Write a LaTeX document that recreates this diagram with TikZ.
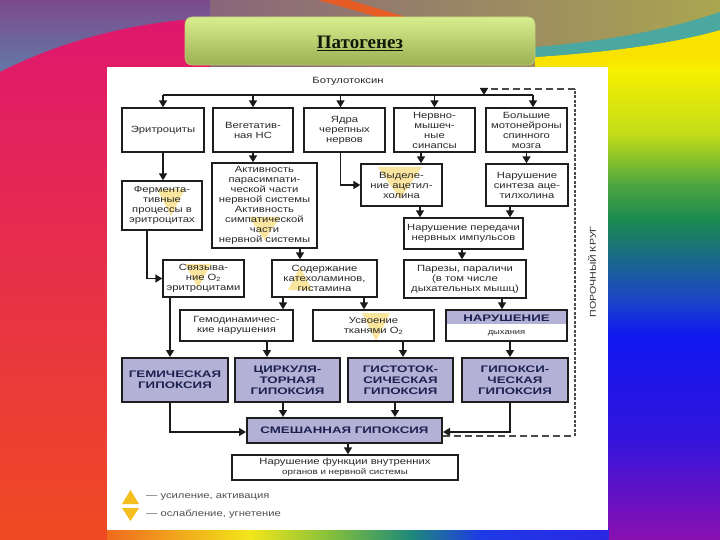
\documentclass[tikz,border=0pt]{standalone}
\usepackage{fontspec}
\setmainfont{Liberation Sans}[FakeStretch=1.25]
\newfontfamily\hypfont{Liberation Sans}[FakeStretch=1.4]
\newfontfamily\titlefont{Liberation Serif}
\usetikzlibrary{arrows.meta}
\definecolor{boxline}{HTML}{1E1E1E}
\definecolor{boxtext}{HTML}{2A2A2A}
\definecolor{hypfill}{HTML}{B4B1D7}
\definecolor{hyptext}{HTML}{1C2150}
\definecolor{lineclr}{HTML}{1A1A1A}
\definecolor{dashclr}{HTML}{4A4A4A}
\definecolor{hlyellow}{HTML}{F7D55E}
\definecolor{legyellow}{HTML}{F4BE1E}
\definecolor{legtext}{HTML}{505050}
\definecolor{titletop}{HTML}{D8EE8E}
\definecolor{titlebot}{HTML}{9CB054}
\definecolor{topL}{HTML}{7B4B8C}
\definecolor{topM}{HTML}{8C6468}
\definecolor{topR}{HTML}{AAA650}
\definecolor{bluegrey}{HTML}{6478A8}
\definecolor{redtop}{HTML}{DF176E}
\definecolor{redbot}{HTML}{EF4A22}
\definecolor{stripe}{HTML}{F05A1E}
\definecolor{tealband}{HTML}{4AA8A0}
\definecolor{yel}{HTML}{F8E200}
\begin{document}
\begin{tikzpicture}[x=1pt,y=-1pt,
  box/.style={draw=boxline, line width=1.4pt, align=center, inner sep=1pt, text=boxtext, font=\fontsize{9}{10}\selectfont},
  hyp/.style={draw=boxline, fill=hypfill, line width=2pt, align=center, inner sep=1pt, text=hyptext, font=\hypfont\bfseries\fontsize{9.5}{11}\selectfont},
  arr/.style={draw=lineclr, line width=1.6pt, -{Triangle[length=7pt,width=8pt]}},
  vline/.style={draw=lineclr, line width=1.6pt},
  vicious/.style={draw=dashclr, line width=2pt, dash pattern=on 7pt off 4pt},
  viciousv/.style={draw=dashclr, line width=2pt, dash pattern=on 3pt off 1.5pt},
  hl/.style={fill=hlyellow, fill opacity=0.6},
  legtri/.style={fill=legyellow},
  legtxt/.style={anchor=west, text=legtext, font=\fontsize{9}{10}\selectfont, inner sep=0pt}
]
\useasboundingbox (0,0) rectangle (720,540);
% ---------- background ----------
\shade[left color=topL, middle color=topM, right color=topR] (0,0) rectangle (720,80);
\shade[top color=topL, bottom color=bluegrey] (0,0) -- (210,0) -- (210,18) .. controls (130,22) and (60,42) .. (0,72) -- cycle;
\shade[top color=redtop, bottom color=redbot] (0,72) .. controls (60,42) and (130,22) .. (210,18) -- (210,67) -- (107,67) -- (107,540) -- (0,540) -- cycle;
\fill[stripe, opacity=0.9] (318,0) -- (349,0) -- (406,17) -- (378,17) -- cycle;
\fill[yel] (535,57) .. controls (610,52) and (670,44) .. (720,30) -- (720,80) -- (535,80) -- cycle;
\fill[tealband] (535,47) .. controls (610,41) and (670,29) .. (720,12) -- (720,30) .. controls (670,44) and (610,52) .. (535,57) -- cycle;
\shade[top color=yel, bottom color={rgb,255:red,248;green,240;blue,0}] (608,55) rectangle (720,70.5);
\shade[top color={rgb,255:red,248;green,240;blue,0}, bottom color={rgb,255:red,192;green,220;blue,24}] (608,70) rectangle (720,135.5);
\shade[top color={rgb,255:red,192;green,220;blue,24}, bottom color={rgb,255:red,76;green,164;blue,64}] (608,135) rectangle (720,185.5);
\shade[top color={rgb,255:red,76;green,164;blue,64}, bottom color={rgb,255:red,26;green,138;blue,80}] (608,185) rectangle (720,220.5);
\shade[top color={rgb,255:red,26;green,138;blue,80}, bottom color={rgb,255:red,26;green,68;blue,200}] (608,220) rectangle (720,300.5);
\shade[top color={rgb,255:red,26;green,68;blue,200}, bottom color={rgb,255:red,16;green,24;blue,240}] (608,300) rectangle (720,335.5);
\shade[top color={rgb,255:red,16;green,24;blue,240}, bottom color={rgb,255:red,52;green,20;blue,220}] (608,335) rectangle (720,440.5);
\shade[top color={rgb,255:red,52;green,20;blue,220}, bottom color={rgb,255:red,138;green,16;blue,176}] (608,440) rectangle (720,540);
% bottom strip
\shade[left color={rgb,255:red,240;green,106;blue,30}, right color={rgb,255:red,242;green,230;blue,26}] (107,528) rectangle (250.5,540);
\shade[left color={rgb,255:red,242;green,230;blue,26}, right color={rgb,255:red,132;green,192;blue,60}] (250,528) rectangle (330.5,540);
\shade[left color={rgb,255:red,132;green,192;blue,60}, right color={rgb,255:red,30;green,138;blue,120}] (330,528) rectangle (410.5,540);
\shade[left color={rgb,255:red,30;green,138;blue,120}, right color={rgb,255:red,30;green,58;blue,230}] (410,528) rectangle (480.5,540);
\shade[left color={rgb,255:red,30;green,58;blue,230}, right color={rgb,255:red,42;green,40;blue,228}] (480,528) rectangle (608.5,540);
% white panel
\fill[white] (107,67) rectangle (608,530);
% title bar
\shade[top color=titletop, bottom color=titlebot, rounded corners=7pt, draw={rgb,255:red,190;green,206;blue,120}, line width=0.6pt] (185,17) rectangle (535,65);
\node[font=\titlefont\bfseries\fontsize{19}{22}\selectfont, text={rgb,255:red,16;green,24;blue,8}] (title) at (360,43) {\underline{Патогенез}};
% ---------- highlight triangles ----------
\fill[hl] (157,189) -- (185,189) -- (171,216) -- cycle;
\fill[hl] (249,217) -- (280,217) -- (264.5,240) -- cycle;
\fill[hl] (378,167) -- (422,167) -- (400,199) -- cycle;
\fill[hl] (185,264) -- (211,264) -- (198,288) -- cycle;
\fill[hl] (288,290) -- (312,290) -- (300,267) -- cycle;
\fill[hl] (362,313) -- (390,313) -- (376,341) -- cycle;
% ---------- nodes ----------
\node[text=boxtext, font=\fontsize{9}{10}\selectfont] (bot) at (348,81) {Ботулотоксин};
\node[box, minimum width=82pt, minimum height=44pt] (ery) at (163,130) {Эритроциты};
\node[box, minimum width=80pt, minimum height=44pt] (veg) at (253,130) {Вегетатив-\\ная НС};
\node[box, minimum width=81pt, minimum height=44pt] (yad) at (344.5,130) {Ядра\\черепных\\нервов};
\node[box, minimum width=81pt, minimum height=44pt] (nms) at (434.5,130) {Нервно-\\мышеч-\\ные\\синапсы};
\node[box, minimum width=81pt, minimum height=44pt] (big) at (526.5,130) {Большие\\мотонейроны\\спинного\\мозга};
\node[box, minimum width=80pt, minimum height=49pt] (fer) at (162,205.5) {Фермента-\\тивные\\процессы в\\эритроцитах};
\node[box, minimum width=105pt, minimum height=85pt] (act) at (264.5,205.5) {Активность\\парасимпати-\\ческой части\\нервной системы\\Активность\\симпатической\\части\\нервной системы};
\node[box, minimum width=81pt, minimum height=42pt] (vyd) at (401.5,185) {Выделе-\\ние ацетил-\\холина};
\node[box, minimum width=82pt, minimum height=42pt] (syn) at (527,185) {Нарушение\\синтеза аце-\\тилхолина};
\node[box, minimum width=119pt, minimum height=31pt] (per) at (463.5,233.5) {Нарушение передачи\\нервных импульсов};
\node[box, minimum width=81pt, minimum height=37pt] (svy) at (203.5,278.5) {Связыва-\\ние O\textsubscript{2}\\эритроцитами};
\node[box, minimum width=105pt, minimum height=37pt] (sod) at (324.5,278.5) {Содержание\\катехоламинов,\\гистамина};
\node[box, minimum width=122pt, minimum height=38pt] (par) at (465,279) {Парезы, параличи\\(в том числе\\дыхательных мышц)};
\node[box, minimum width=113pt, minimum height=31pt] (gem) at (236.5,325.5) {Гемодинамичес-\\кие нарушения};
\node[box, minimum width=121pt, minimum height=31pt] (usv) at (373.5,325.5) {Усвоение\\тканями O\textsubscript{2}};
\fill[hypfill] (446,310) rectangle (567,324);
\node[box, minimum width=121pt, minimum height=31pt] (nar) at (506.5,325.5) {};
\node[text=hyptext, font=\hypfont\bfseries\fontsize{9.5}{11}\selectfont, inner sep=0pt] (nartop) at (506.5,318) {НАРУШЕНИЕ};
\node[text=boxtext, font=\fontsize{7.5}{9}\selectfont, inner sep=0pt] (narbot) at (506.5,333) {дыхания};
\node[hyp, minimum width=106pt, minimum height=44pt] (h1) at (175,380) {ГЕМИЧЕСКАЯ\\ГИПОКСИЯ};
\node[hyp, minimum width=105pt, minimum height=44pt] (h2) at (287.5,380) {ЦИРКУЛЯ-\\ТОРНАЯ\\ГИПОКСИЯ};
\node[hyp, minimum width=105pt, minimum height=44pt] (h3) at (400.5,380) {ГИСТОТОК-\\СИЧЕСКАЯ\\ГИПОКСИЯ};
\node[hyp, minimum width=106pt, minimum height=44pt] (h4) at (515,380) {ГИПОКСИ-\\ЧЕСКАЯ\\ГИПОКСИЯ};
\node[hyp, minimum width=195pt, minimum height=25pt] (mix) at (344.5,430.5) {СМЕШАННАЯ ГИПОКСИЯ};
\node[box, minimum width=226pt, minimum height=25pt] (fun) at (345,467.5) {Нарушение функции внутренних\\{\fontsize{7.8}{9}\selectfont органов и нервной системы}};
\node[rotate=90, text=boxtext, font=\fontsize{8.5}{10}\selectfont] (krug) at (592,272) {ПОРОЧНЫЙ КРУГ};
% legend
\fill[legtri] (122,504) -- (139,504) -- (130.5,490) -- cycle;
\fill[legtri] (122,508) -- (139,508) -- (130.5,521) -- cycle;
\node[legtxt] (leg1) at (146,497) {— усиление, активация};
\node[legtxt] (leg2) at (146,514) {— ослабление, угнетение};
% ---------- connectors ----------
\coordinate (busL) at (163,95);
\coordinate (busR) at (533,95);
\draw[vline] (busL) -- (busR);
\draw[arr] (ery.north |- busL) -- (ery.north);
\draw[arr] (veg.north |- busL) -- (veg.north);
\draw[arr] ([xshift=-4pt]yad.north |- busL) -- ([xshift=-4pt]yad.north);
\draw[arr] (nms.north |- busL) -- (nms.north);
\draw[arr] ([xshift=6.5pt]big.north |- busL) -- ([xshift=6.5pt]big.north);
\draw[arr] (ery.south) -- (ery.south |- fer.north);
\draw[arr] (veg.south) -- (veg.south |- act.north);
\draw[arr] ([xshift=-4pt]yad.south) |- (vyd.west);
\draw[arr] ([xshift=-13.5pt]nms.south) -- ([xshift=-13.5pt]nms.south |- vyd.north);
\draw[arr] (big.south) -- (big.south |- syn.north);
\draw[arr] ([xshift=18.5pt]vyd.south) -- ([xshift=18.5pt]vyd.south |- per.north);
\draw[arr] ([xshift=-17pt]syn.south) -- ([xshift=-17pt]syn.south |- per.north);
\draw[arr] ([xshift=-1.5pt]per.south) -- ([xshift=-1.5pt]per.south |- par.north);
\draw[arr] ([xshift=-15pt]fer.south) |- (svy.west);
\draw[arr] ([xshift=35.5pt]act.south) -- ([xshift=35.5pt]act.south |- sod.north);
\draw[arr] ([xshift=-41.5pt]sod.south) -- ([xshift=-41.5pt]sod.south |- gem.north);
\draw[arr] ([xshift=39.5pt]sod.south) -- ([xshift=39.5pt]sod.south |- usv.north);
\draw[arr] ([xshift=37pt]par.south) -- ([xshift=37pt]par.south |- nar.north);
\draw[arr] ([xshift=-33.5pt]svy.south) -- ([xshift=-33.5pt]svy.south |- h1.north);
\draw[arr] ([xshift=30.5pt]gem.south) -- ([xshift=30.5pt]gem.south |- h2.north);
\draw[arr] ([xshift=29.5pt]usv.south) -- ([xshift=29.5pt]usv.south |- h3.north);
\draw[arr] ([xshift=3.5pt]nar.south) -- ([xshift=3.5pt]nar.south |- h4.north);
\draw[arr] ([xshift=-5pt]h1.south) |- ([yshift=-1.5pt]mix.west);
\draw[arr] ([xshift=-4.5pt]h2.south) -- ([xshift=-4.5pt]h2.south |- mix.north);
\draw[arr] ([xshift=-5.5pt]h3.south) -- ([xshift=-5.5pt]h3.south |- mix.north);
\draw[arr] ([xshift=-5pt]h4.south) |- ([yshift=-1.5pt]mix.east);
\draw[arr] ([xshift=3.5pt]mix.south) -- ([xshift=3.5pt]mix.south |- fun.north);
% vicious circle
\coordinate (vc1) at (575,89);
\coordinate (vc2) at (484,89);
\coordinate (vc3) at (575,436);
\draw[vicious] (mix.east |- vc3) -- (vc3);
\draw[viciousv] (vc3) -- (vc1);
\draw[vicious] (vc1) -- (vc2);
\draw[arr] (vc2) -- (vc2 |- busL);
\end{tikzpicture}
\end{document}
